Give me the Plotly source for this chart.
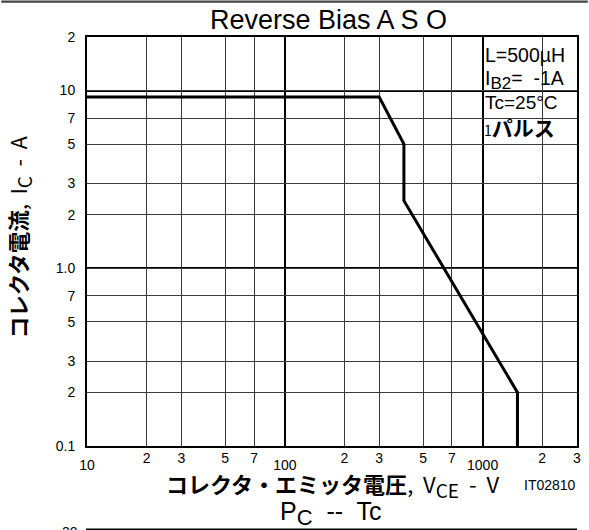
import plotly.graph_objects as go

# Data: Reverse Bias ASO boundary
vce = [10, 300, 400, 400, 1500, 1500]
ic = [9.2, 9.2, 5.0, 2.4, 0.2, 0.1]

x_minor_vals = [20, 30, 50, 70, 200, 300, 500, 700, 2000, 3000]
x_minor_text = ["2", "3", "5", "7", "2", "3", "5", "7", "2", "3"]
x_decade_vals = [10, 100, 1000]
x_decade_text = ["10", "100", "1000"]
y_vals = [0.1, 0.2, 0.3, 0.5, 0.7, 1, 2, 3, 5, 7, 10, 20]
y_text = ["0.1", "2", "3", "5", "7", "1.0", "2", "3", "5", "7", "10", "2"]

FONT = "Liberation Sans, Arial, Noto Sans CJK JP"
JP = "Noto Sans CJK JP, Liberation Sans"

fig = go.Figure()
fig.add_trace(go.Scatter(x=vce, y=ic, mode="lines",
                         line=dict(color="black", width=3),
                         showlegend=False, hoverinfo="skip"))
fig.add_trace(go.Scatter(x=vce, y=ic, mode="lines", xaxis="x2",
                         line=dict(color="rgba(0,0,0,0)", width=0),
                         showlegend=False, hoverinfo="skip"))

xr = [1, 3.4771]
yr = [-1, 1.30103]

fig.update_layout(
    width=589, height=530,
    margin=dict(l=87, r=12, t=37, b=84, autoexpand=False),
    paper_bgcolor="white", plot_bgcolor="white",
    font=dict(family=FONT, color="black", size=14),
    xaxis=dict(type="log", range=xr, tickmode="array", automargin=False,
               tickvals=x_minor_vals, ticktext=x_minor_text,
               showgrid=True, gridcolor="#3a3a3a", gridwidth=1,
               showline=True, mirror=True, linecolor="black", linewidth=2,
               ticks="", ticklabelstandoff=-2,
               tickfont=dict(size=14, family=FONT),
               minor=dict(tickvals=[100, 1000], showgrid=True,
                          gridcolor="black", gridwidth=2, ticks=""),
               zeroline=False),
    xaxis2=dict(type="log", range=xr, overlaying="x", anchor="y", automargin=False,
                side="bottom", tickmode="array",
                tickvals=x_decade_vals, ticktext=x_decade_text,
                showgrid=False, showline=False, ticks="",
                ticklabelstandoff=9,
                tickfont=dict(size=14, family=FONT), zeroline=False),
    yaxis=dict(type="log", range=yr, tickmode="array", automargin=False,
               tickvals=y_vals, ticktext=y_text,
               showgrid=True, gridcolor="#3a3a3a", gridwidth=1,
               showline=True, mirror=True, linecolor="black", linewidth=2,
               ticks="", ticklabelstandoff=7,
               tickfont=dict(size=14, family=FONT),
               minor=dict(tickvals=[1, 10], showgrid=True,
                          gridcolor="black", gridwidth=2, ticks=""),
               zeroline=False),
)

fig.add_shape(type="rect", xref="paper", yref="paper",
              x0=0.802, x1=0.996, y0=0.731, y1=0.986,
              fillcolor="white", line=dict(width=0), layer="between")
fig.add_shape(type="rect", xref="paper", yref="paper",
              x0=-0.175, x1=1.022, y0=1.0835, y1=1.089,
              fillcolor="#444", line=dict(width=0), layer="above")
fig.add_shape(type="line", xref="paper", yref="paper",
              x0=-0.002, x1=1.0, y0=-0.204, y1=-0.204,
              line=dict(color="black", width=2))

SUB = "<sub><span style='font-size:{}px'>{}</span></sub>"

ann = [
    dict(text="Reverse Bias A S O", x=0.493, y=1.042, size=27, xa="center"),
    dict(text="L=500µH", x=0.808, y=0.957, size=19.5, xa="left"),
    dict(text="I" + SUB.format(17, "B2") + "=  -1A", x=0.808, y=0.895, size=19.5, xa="left"),
    dict(text="Tc=25°C", x=0.808, y=0.839, size=19, xa="left"),
    dict(text="<span style='font-size:14px'>1</span><b>パルス</b>", x=0.806, y=0.780, size=21, xa="left", fam=JP),
    dict(text="<b>コレクタ・エミッタ電圧</b>,  V" + SUB.format(19, "CE") + "  -  V", x=0.50, y=-0.096, size=22, xa="center", fam=JP),
    dict(text="IT02810", x=0.945, y=-0.096, size=14, xa="center"),
    dict(text="P" + SUB.format(22, "C") + "  --  Tc", x=0.497, y=-0.165, size=25, xa="center"),
    dict(text="30", x=-0.014, y=-0.21, size=14, xa="right"),
]
for a in ann:
    fig.add_annotation(text=a["text"], x=a["x"], y=a["y"], xref="paper", yref="paper",
                       xanchor=a["xa"], yanchor="middle", showarrow=False,
                       font=dict(size=a["size"], family=a.get("fam", FONT), color="black"))

fig.add_annotation(text="<b>コレクタ電流</b>,  I" + SUB.format(19, "C") + "  -  A", x=-0.137, y=0.51,
                   xref="paper", yref="paper", textangle=-90, showarrow=False,
                   xanchor="center", yanchor="middle",
                   font=dict(size=21.5, family=JP, color="black"))

fig.write_html("out.html", config={"displayModeBar": False},
               post_script="document.body.style.margin='0';document.body.style.overflow='hidden';")
